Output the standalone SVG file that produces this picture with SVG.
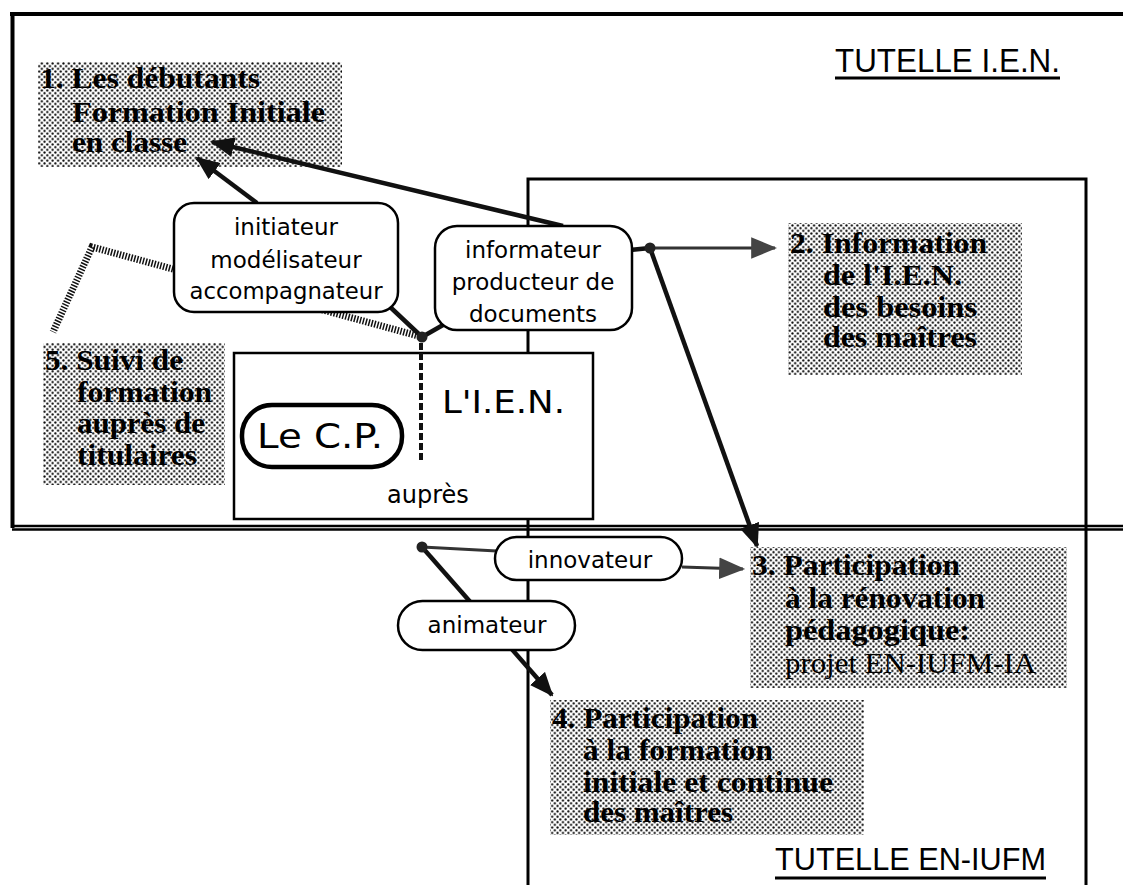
<svg xmlns="http://www.w3.org/2000/svg" width="1123" height="885" viewBox="0 0 1123 885">
<defs>
  <pattern id="dots" width="5.4" height="5.4" patternUnits="userSpaceOnUse">
    <rect width="5.4" height="5.4" fill="#fff"/>
    <circle cx="1.35" cy="1.35" r="1.1" fill="#000"/>
    <circle cx="4.05" cy="4.05" r="1.1" fill="#000"/>
  </pattern>
  <marker id="ah" viewBox="0 0 24 20" refX="22" refY="10" markerWidth="24" markerHeight="20" markerUnits="userSpaceOnUse" orient="auto">
    <path d="M0,0 L24,10 L0,20 z" fill="#111"/>
  </marker>
  <marker id="ahg" viewBox="0 0 24 20" refX="22" refY="10" markerWidth="26" markerHeight="22" markerUnits="userSpaceOnUse" orient="auto">
    <path d="M0,0 L24,10 L0,20 z" fill="#444"/>
  </marker>
</defs>
<style>
  .frame{fill:none;stroke:#000;stroke-width:3}
  .conn{fill:none;stroke:#111;stroke-width:4.5}
  .thin{fill:none;stroke:#333;stroke-width:3}
  .hatch{fill:none;stroke:#111;stroke-width:7;stroke-dasharray:1.5 1.5}
  .shade{fill:url(#dots)}
  .bt{font-family:"Liberation Serif",serif;font-weight:bold;font-size:29px;fill:#000}
  .rt{font-family:"Liberation Serif",serif;font-size:29px;fill:#000}
  .lbl{fill:#fff;stroke:#000;stroke-width:2.5}
  .st{font-family:"DejaVu Sans",sans-serif;font-size:23px;fill:#000;text-anchor:middle}
  .tut{font-family:"Liberation Sans",sans-serif;font-size:34px;fill:#000}
</style>
<rect width="1123" height="885" fill="#fff"/>

<g id="frames">
  <path class="frame" d="M10,14 H1123 M12.5,14 V528" style="stroke-width:4"/>
  <path class="frame" d="M12,526 H1123 M12,529.5 H1123" style="stroke-width:2.4"/>
  <path class="frame" d="M528,885 V179 H1086 V885"/>
</g>

<g id="tutelle-ien">
  <text class="tut" x="835" y="72" textLength="225" lengthAdjust="spacingAndGlyphs">TUTELLE I.E.N.</text>
  <line x1="835" y1="78" x2="1060" y2="78" stroke="#000" stroke-width="3"/>
</g>
<g id="tutelle-iufm">
  <text class="tut" x="775" y="870" style="font-size:31px" textLength="271" lengthAdjust="spacingAndGlyphs">TUTELLE EN-IUFM</text>
  <line x1="775" y1="878" x2="1046" y2="878" stroke="#000" stroke-width="3"/>
</g>

<g id="n1">
  <rect class="shade" x="38" y="62" width="304" height="105"/>
  <text class="bt" x="40" y="88" textLength="220" lengthAdjust="spacingAndGlyphs">1. Les débutants</text>
  <text class="bt" x="72" y="122" textLength="253" lengthAdjust="spacingAndGlyphs">Formation Initiale</text>
  <text class="bt" x="72" y="152" textLength="115" lengthAdjust="spacingAndGlyphs">en classe</text>
</g>

<g id="n2">
  <rect class="shade" x="788" y="223" width="234" height="152"/>
  <text class="bt" x="790" y="253" textLength="197" lengthAdjust="spacingAndGlyphs">2. Information</text>
  <text class="bt" x="823" y="285" textLength="139" lengthAdjust="spacingAndGlyphs">de l'I.E.N.</text>
  <text class="bt" x="823" y="317" textLength="154" lengthAdjust="spacingAndGlyphs">des besoins</text>
  <text class="bt" x="823" y="347" textLength="154" lengthAdjust="spacingAndGlyphs">des maîtres</text>
</g>

<g id="n3">
  <rect class="shade" x="750" y="547" width="317" height="141"/>
  <text class="bt" x="752" y="575" textLength="208" lengthAdjust="spacingAndGlyphs">3. Participation</text>
  <text class="bt" x="785" y="608" textLength="200" lengthAdjust="spacingAndGlyphs">à la rénovation</text>
  <text class="bt" x="785" y="640" textLength="185" lengthAdjust="spacingAndGlyphs">pédagogique:</text>
  <text class="rt" x="785" y="673" textLength="251" lengthAdjust="spacingAndGlyphs">projet EN-IUFM-IA</text>
</g>

<g id="n4">
  <rect class="shade" x="550" y="700" width="314" height="135"/>
  <text class="bt" x="552" y="728" textLength="206" lengthAdjust="spacingAndGlyphs">4. Participation</text>
  <text class="bt" x="583" y="760" textLength="190" lengthAdjust="spacingAndGlyphs">à la formation</text>
  <text class="bt" x="583" y="792" textLength="250" lengthAdjust="spacingAndGlyphs">initiale et continue</text>
  <text class="bt" x="583" y="822" textLength="150" lengthAdjust="spacingAndGlyphs">des maîtres</text>
</g>

<g id="n5">
  <rect class="shade" x="43" y="343" width="182" height="142"/>
  <text class="bt" x="45" y="370" textLength="138" lengthAdjust="spacingAndGlyphs">5. Suivi de</text>
  <text class="bt" x="77" y="402" textLength="135" lengthAdjust="spacingAndGlyphs">formation</text>
  <text class="bt" x="77" y="433" textLength="128" lengthAdjust="spacingAndGlyphs">auprès de</text>
  <text class="bt" x="77" y="465" textLength="120" lengthAdjust="spacingAndGlyphs">titulaires</text>
</g>

<g id="connectors">
  <path class="hatch" d="M422,337 L92,247 L53,332"/>
  <line class="conn" x1="257" y1="203" x2="197" y2="158" marker-end="url(#ah)"/>
  <line class="conn" x1="563" y1="226" x2="212" y2="142" marker-end="url(#ah)"/>
  <line class="conn" x1="422" y1="337" x2="388" y2="305"/>
  <line class="conn" x1="422" y1="337" x2="443" y2="325"/>
  <line x1="421" y1="343" x2="421" y2="463" stroke="#111" stroke-width="4" stroke-dasharray="7 3"/>
  <line class="conn" x1="630" y1="250" x2="650" y2="248"/>
  <line class="thin" x1="650" y1="248" x2="775" y2="248" marker-end="url(#ahg)"/>
  <line class="conn" x1="650" y1="248" x2="757" y2="546" marker-end="url(#ah)"/>
  <line class="thin" x1="422" y1="547" x2="497" y2="551"/>
  <line class="conn" x1="422" y1="547" x2="552" y2="695" marker-end="url(#ah)"/>
  <line class="thin" x1="682" y1="567" x2="743" y2="569" marker-end="url(#ahg)"/>
  <circle cx="422" cy="337" r="5.5" fill="#222"/>
  <circle cx="650" cy="248" r="5.5" fill="#222"/>
  <circle cx="422" cy="547" r="5.5" fill="#222"/>
</g>

<g id="initiateur">
  <rect class="lbl" x="174" y="203" width="224" height="109" rx="20"/>
  <text class="st" x="286" y="235">initiateur</text>
  <text class="st" x="286" y="268">modélisateur</text>
  <text class="st" x="286" y="299" textLength="193" lengthAdjust="spacingAndGlyphs">accompagnateur</text>
</g>

<g id="informateur">
  <rect class="lbl" x="435" y="226" width="197" height="104" rx="22"/>
  <text class="st" x="533" y="258">informateur</text>
  <text class="st" x="533" y="290">producteur de</text>
  <text class="st" x="533" y="322">documents</text>
</g>

<g id="ien">
  <rect x="234" y="353" width="359" height="166" fill="#fff" stroke="#000" stroke-width="2.5"/>
  <line x1="421" y1="353" x2="421" y2="463" stroke="#111" stroke-width="4" stroke-dasharray="7 3"/>
  <text x="442" y="413" font-family="DejaVu Sans, sans-serif" font-size="32" textLength="123" lengthAdjust="spacingAndGlyphs">L'I.E.N.</text>
  <text class="st" x="428" y="503" style="font-size:24px">auprès</text>
</g>

<g id="cp">
  <rect x="242" y="405" width="160" height="62" rx="30" fill="#fff" stroke="#000" stroke-width="4.5"/>
  <text x="257" y="448" font-family="DejaVu Sans, sans-serif" font-size="34" textLength="126" lengthAdjust="spacingAndGlyphs">Le C.P.</text>
</g>

<g id="innovateur">
  <rect class="lbl" x="495" y="537" width="187" height="43" rx="21.5"/>
  <text class="st" x="590" y="568">innovateur</text>
</g>

<g id="animateur">
  <rect class="lbl" x="398" y="601" width="177" height="49" rx="24.5"/>
  <text class="st" x="487" y="633">animateur</text>
</g>
</svg>
